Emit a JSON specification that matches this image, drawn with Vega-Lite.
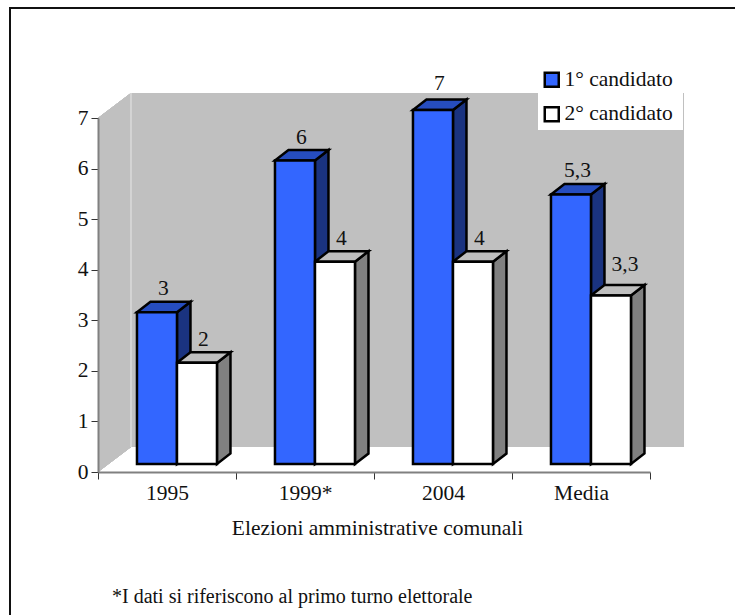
{
"$schema":"https://vega.github.io/schema/vega-lite/v6.json",
"width":552,"height":354,
"autosize":{"type":"none"},
"padding":{"left":98,"top":118,"right":85,"bottom":143},
"background":"white",
"config":{"view":{"stroke":null},"font":"Liberation Serif"},
"datasets":{"barre":[
{"anno":"1995","serie":"1° candidato","valore":3,"etichetta":"3"},
{"anno":"1995","serie":"2° candidato","valore":2,"etichetta":"2"},
{"anno":"1999*","serie":"1° candidato","valore":6,"etichetta":"6"},
{"anno":"1999*","serie":"2° candidato","valore":4,"etichetta":"4"},
{"anno":"2004","serie":"1° candidato","valore":7,"etichetta":"7"},
{"anno":"2004","serie":"2° candidato","valore":4,"etichetta":"4"},
{"anno":"Media","serie":"1° candidato","valore":5.33,"etichetta":"5,3"},
{"anno":"Media","serie":"2° candidato","valore":3.33,"etichetta":"3,3"}
]},
"data":{"name":"barre"},
"encoding":{
"x":{"field":"anno","type":"nominal","sort":null,"scale":{"paddingInner":0,"paddingOuter":0,"domain":["1995","1999*","2004","Media"]},
"axis":{"title":"Elezioni amministrative comunali","titleFontSize":21.5,"titleFontWeight":"normal","titleColor":"#111111","titlePadding":14,"titleX":279,"labelAngle":0,"labelFontSize":21.5,"labelColor":"#111111","labelPadding":3,"tickBand":"extent","tickSize":7,"tickColor":"#333333","domainColor":"#808080","domainWidth":2,"zindex":1,"grid":false}},
"y":{"type":"quantitative","scale":{"domain":[0,7],"nice":false},
"axis":{"title":null,"values":[0,1,2,3,4,5,6,7],"labelFontSize":21.5,"labelColor":"#111111","labelPadding":3,"tickSize":7,"tickColor":"#333333","domainColor":"#808080","domainWidth":2,"zindex":1,"grid":false}}
},
"layer":[
{"mark":{"type":"point","filled":true,"opacity":1,"size":4,"fill":"#c0c0c0","stroke":null,"shape":"M-69,0 L-69,-354 L-36,-379 L517,-379 L517,-25 L-36,-25 Z"},
 "encoding":{"x":{"datum":"1995"},"y":{"datum":0}}},
{"mark":{"type":"point","filled":true,"opacity":1,"size":4,"fill":"white","stroke":null,"shape":"M371,-379 L516,-379 L516,-342 L371,-342 Z"},
 "encoding":{"x":{"datum":"1995"},"y":{"datum":0}}},
{"mark":{"type":"point","filled":false,"opacity":1,"size":4,"stroke":"#d4d4d4","strokeWidth":1,"shape":"M-36,-25 L-36,-379"},
 "encoding":{"x":{"datum":"1995"},"y":{"datum":0}}},
{"mark":{"type":"point","filled":false,"opacity":1,"size":4,"stroke":"#111111","strokeWidth":2,"shape":"M570,-464 L-157,-464 L-157,146"},
 "encoding":{"x":{"datum":"1995"},"y":{"datum":0}}},
{"mark":{"type":"point","filled":true,"opacity":1,"size":4,"stroke":"black","strokeWidth":2.5,"strokeJoin":"miter"},
 "encoding":{
  "xOffset":{"field":"serie","type":"nominal","scale":{"paddingInner":0,"paddingOuter":0.725,"align":0.672}},
  "y":{"field":"valore","type":"quantitative"},
  "shape":{"field":"valore","type":"nominal","legend":null,"scale":{"domain":[2,3,3.33,4,5.33,6,7],"range":[
   "M20,-8 L33.5,-18.5 L33.5,82.6 L20,93.1 Z",
   "M20,-8 L33.5,-18.5 L33.5,133.2 L20,143.7 Z",
   "M20,-8 L33.5,-18.5 L33.5,149.9 L20,160.4 Z",
   "M20,-8 L33.5,-18.5 L33.5,183.8 L20,194.3 Z",
   "M20,-8 L33.5,-18.5 L33.5,251 L20,261.5 Z",
   "M20,-8 L33.5,-18.5 L33.5,284.9 L20,295.4 Z",
   "M20,-8 L33.5,-18.5 L33.5,335.5 L20,346 Z"]}},
  "fill":{"condition":{"test":"datum.serie==='1° candidato'","value":"#1a3380"},"value":"#808080"}
 }},
{"mark":{"type":"point","filled":true,"opacity":1,"size":4,"stroke":"black","strokeWidth":2.5,"shape":"M-20,-8 L-6.5,-18.5 L33.5,-18.5 L20,-8 Z"},
 "encoding":{
  "xOffset":{"field":"serie","type":"nominal"},
  "y":{"field":"valore","type":"quantitative"},
  "fill":{"condition":{"test":"datum.serie==='1° candidato'","value":"#264dbf"},"value":"#bfbfbf"}
 }},
{"mark":{"type":"bar","stroke":"black","strokeWidth":2.5,"yOffset":-8,"y2Offset":-8},
 "encoding":{
  "xOffset":{"field":"serie","type":"nominal"},
  "y":{"field":"valore","type":"quantitative"},
  "fill":{"field":"serie","type":"nominal","scale":{"domain":["1° candidato","2° candidato"],"range":["#3366ff","#ffffff"]},
   "legend":{"title":null,"orient":"none","legendX":440,"legendY":-52,"padding":3,"symbolType":"square","symbolSize":196,"symbolStrokeColor":"black","symbolStrokeWidth":2.5,"labelFontSize":21.5,"labelColor":"#111111","labelOffset":2,"rowPadding":9.5}}
 }},
{"transform":[{"filter":"datum.etichetta!=='3,3' && datum.etichetta!=='7'"}],
 "mark":{"type":"text","fontSize":21.5,"color":"#111111","dx":6.5,"dy":-25,"baseline":"alphabetic"},
 "encoding":{
  "xOffset":{"field":"serie","type":"nominal"},
  "y":{"field":"valore","type":"quantitative"},
  "text":{"field":"etichetta"}
 }},
{"transform":[{"filter":"datum.etichetta==='7'"}],
 "mark":{"type":"text","fontSize":21.5,"color":"#111111","dx":6.5,"dy":-28,"baseline":"alphabetic"},
 "encoding":{
  "xOffset":{"field":"serie","type":"nominal"},
  "y":{"field":"valore","type":"quantitative"},
  "text":{"field":"etichetta"}
 }},
{"transform":[{"filter":"datum.etichetta==='3,3'"}],
 "mark":{"type":"text","fontSize":21.5,"color":"#111111","dx":14,"dy":-33,"baseline":"alphabetic"},
 "encoding":{
  "xOffset":{"field":"serie","type":"nominal"},
  "y":{"field":"valore","type":"quantitative"},
  "text":{"field":"etichetta"}
 }},
{"data":{"values":[{"nota":"*I dati si riferiscono al primo turno elettorale"}]},
 "mark":{"type":"text","fontSize":20,"color":"#111111","align":"left","baseline":"alphabetic","dx":-55,"dy":131},
 "encoding":{"x":{"datum":"1995"},"y":{"datum":0},"text":{"field":"nota"}}}
]
}
